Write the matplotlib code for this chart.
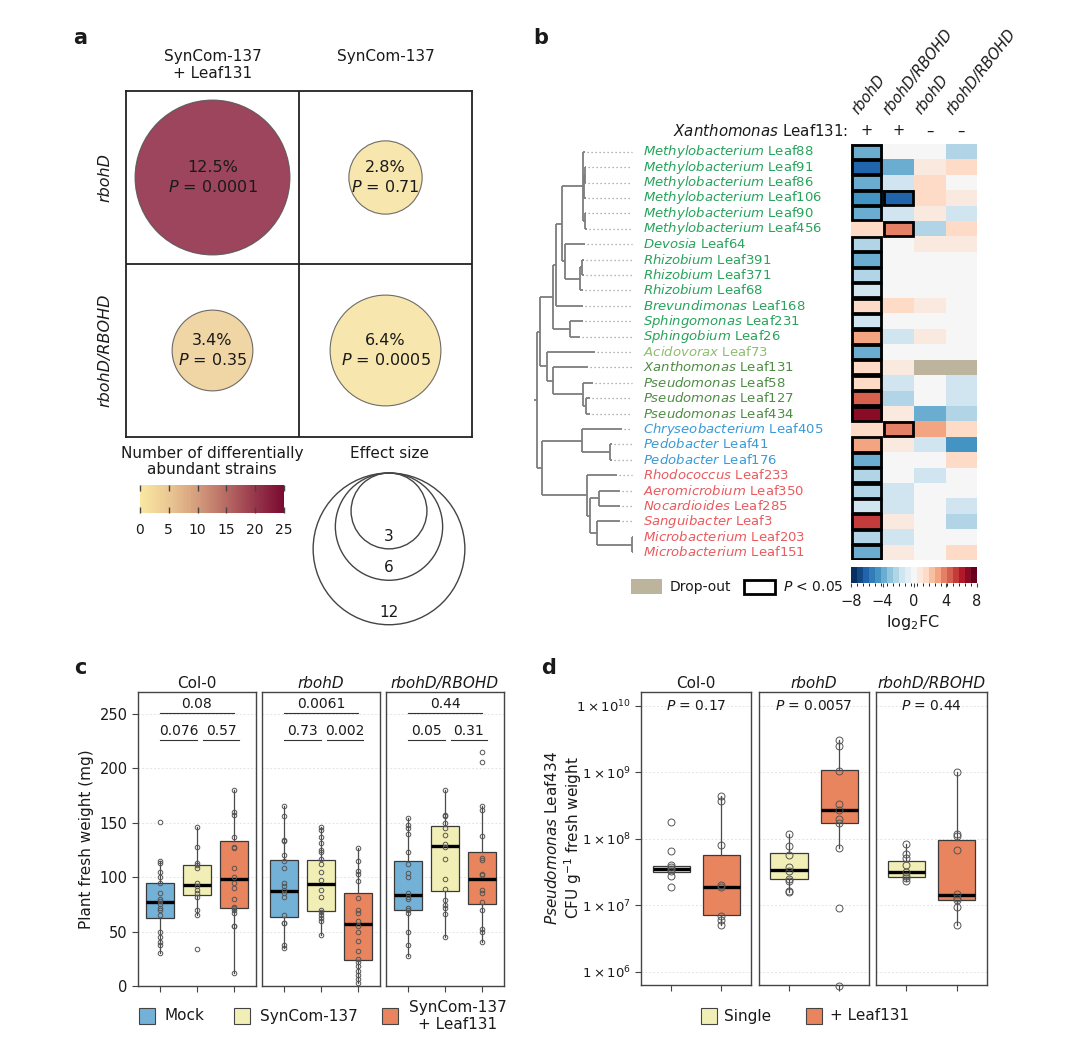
import numpy as np
import matplotlib
matplotlib.use("Agg")
import matplotlib.pyplot as plt
from matplotlib.patches import Circle, Rectangle
from matplotlib.colors import LinearSegmentedColormap, ListedColormap, BoundaryNorm, Normalize
from matplotlib.colorbar import ColorbarBase

plt.rcParams['font.family'] = ['DejaVu Sans']
plt.rcParams['mathtext.fontset'] = 'dejavusans'

# ======================= DATA =======================
# ---- panel a
a_col_labels = ['SynCom-137\n+ Leaf131', 'SynCom-137']
a_row_labels = ['rbohD', 'rbohD/RBOHD']
a_percent = [[12.5, 2.8], [3.4, 6.4]]
a_pvalue = [['0.0001', '0.71'], ['0.35', '0.0005']]
a_n_strains = [[22, 1], [4, 1]]
a_cbar_ticks = [0, 5, 10, 15, 20, 25]
a_effect_sizes = [12, 6, 3]

# ---- panel b
b_genus = ['Methylobacterium'] * 6 + ['Devosia', 'Rhizobium', 'Rhizobium', 'Rhizobium',
           'Brevundimonas', 'Sphingomonas', 'Sphingobium', 'Acidovorax', 'Xanthomonas',
           'Pseudomonas', 'Pseudomonas', 'Pseudomonas', 'Chryseobacterium', 'Pedobacter',
           'Pedobacter', 'Rhodococcus', 'Aeromicrobium', 'Nocardioides', 'Sanguibacter',
           'Microbacterium', 'Microbacterium']
b_strain = ['Leaf88', 'Leaf91', 'Leaf86', 'Leaf106', 'Leaf90', 'Leaf456', 'Leaf64', 'Leaf391',
            'Leaf371', 'Leaf68', 'Leaf168', 'Leaf231', 'Leaf26', 'Leaf73', 'Leaf131', 'Leaf58',
            'Leaf127', 'Leaf434', 'Leaf405', 'Leaf41', 'Leaf176', 'Leaf233', 'Leaf350',
            'Leaf285', 'Leaf3', 'Leaf203', 'Leaf151']
b_class = ['alpha'] * 13 + ['beta'] + ['gamma'] * 4 + ['bact'] * 3 + ['actino'] * 6
b_class_color = {'alpha': '#27A35B', 'beta': '#8DBE6E', 'gamma': '#4E8C44',
                 'bact': '#3A9AD6', 'actino': '#EA5A5E'}
b_col_genotype = ['rbohD', 'rbohD/RBOHD', 'rbohD', 'rbohD/RBOHD']
b_col_xanth = ['+', '+', '–', '–']
nan = np.nan
b_lfc_rbohD_plus = [-3.5, -6.0, -3.5, -4.8, -3.5, 1.5, -2.5, -3.5, -2.5, -1.5, 1.5, -1.5, 2.8,
                    -3.5, 1.5, 1.5, 4.8, 7.2, 1.5, 2.8, -3.5, -2.5, -2.5, -1.5, 5.5, -2.5, -3.5]
b_lfc_comp_plus = [0, -3.5, -1.5, -6.0, -1.5, 3.8, 0, 0, 0, 0, 1.5, 0, -1.5, 0, 0.6, -1.5,
                   -2.5, 0.6, 3.8, 0.6, 0, 0, -1.5, -1.5, 0.6, -1.5, 0.6]
b_lfc_rbohD_minus = [0, 0.6, 1.5, 1.5, 0.6, -2.5, 0.6, 0, 0, 0, 0.6, 0, 0.6, 0, nan, 0, 0,
                     -3.5, 2.8, -1.5, 0, -1.5, 0, 0, 0, 0, 0]
b_lfc_comp_minus = [-2.5, 1.5, 0, 0.6, -1.5, 1.5, 0.6, 0, 0, 0, 0, 0, 0, 0, nan, -1.5, -1.5,
                    -2.5, 1.5, -4.8, 1.5, 0, 0, -1.5, -2.5, 0, 1.5]
b_sig_col1 = [1, 1, 1, 1, 1, 0, 1, 1, 1, 1, 1, 1, 1, 1, 1, 1, 1, 1, 0, 1, 1, 1, 1, 1, 1, 1, 1]
b_sig_col2 = [0, 0, 0, 1, 0, 1, 0, 0, 0, 0, 0, 0, 0, 0, 0, 0, 0, 0, 1, 0, 0, 0, 0, 0, 0, 0, 0]
b_sig_col3 = [0] * 27
b_sig_col4 = [0] * 27
b_cbar_ticks = [-8, -4, 0, 4, 8]
# phylogeny: (depth, children) ; leaf = (tip depth, row index)
b_tree = (0, [
    (3, [
        (16, [
            (19, [
                (25, [
                    (46, [(48, 0),
                          (47, [(48, [(49, 1), (49, 2)]), (49, 3)]),
                          (48, [(49, 4), (50, 5)])]),
                    (28, [(48, 6),
                          (43, [(45, [(47, 7), (47, 8)]), (46, 9)])]),
                ]),
                (46, 10),
            ]),
            (33, [(46, 11), (43, 12)]),
        ]),
        (10, [(58, 13),
              (16, [(51, 14),
                    (46, [(56, 15), (49, [(53, 16), (53, 17)])])])]),
    ]),
    (5, [
        (45, [(85, 18), (73, [(75, 19), (75, 20)])]),
        (50, [(80, 21),
              (53, [(62, [(83, 22), (83, 23)]),
                    (60, [(83, 24), (95, [(96, 25), (96, 26)])])])]),
    ]),
])

# ---- panel c
c_genotypes = ['Col-0', 'rbohD', 'rbohD/RBOHD']
c_groups = ['Mock', 'SynCom-137', 'SynCom-137\n+ Leaf131']
c_colors = ['#74B1D7', '#F2EFB6', '#E8845E']
c_q1 = [[62.5, 84, 72], [63, 69, 24], [70, 87, 75]]
c_med = [[77, 93, 98], [87, 94, 57], [84, 129, 98]]
c_q3 = [[95, 111, 133], [116, 116, 85], [115, 147, 123]]
c_lo = [[30, 65, 12], [35, 47, 3], [28, 45, 40]]
c_hi = [[115, 146, 180], [165, 146, 127], [154, 180, 165]]
c_points = [
    [[151, 115, 113, 105, 100, 95, 85, 80, 78, 75, 72, 70, 65, 50, 45, 40, 38, 30],
     [146, 128, 113, 111, 108, 95, 92, 88, 85, 82, 70, 65, 34],
     [180, 160, 157, 137, 128, 127, 108, 100, 95, 90, 80, 73, 72, 70, 67, 55, 55, 12]],
    [[165, 156, 134, 133, 120, 115, 108, 95, 92, 88, 85, 82, 65, 58, 58, 38, 35],
     [146, 143, 137, 131, 125, 123, 117, 112, 105, 97, 88, 82, 70, 68, 65, 62, 60, 47],
     [127, 115, 106, 103, 96, 81, 70, 67, 60, 55, 50, 41, 32, 25, 22, 18, 14, 10, 6, 3]],
    [[154, 148, 145, 140, 123, 112, 104, 100, 85, 82, 80, 72, 70, 67, 50, 38, 28],
     [180, 157, 156, 150, 145, 139, 130, 128, 117, 98, 89, 79, 74, 72, 66, 45],
     [215, 206, 165, 162, 138, 118, 116, 103, 102, 88, 85, 77, 70, 52, 50, 40]],
]
c_p_all = ['0.08', '0.0061', '0.44']
c_p_12 = ['0.076', '0.73', '0.05']
c_p_23 = ['0.57', '0.002', '0.31']
c_yticks = [0, 50, 100, 150, 200, 250]

# ---- panel d
d_genotypes = ['Col-0', 'rbohD', 'rbohD/RBOHD']
d_groups = ['Single', '+ Leaf131']
d_colors = ['#F2EFB6', '#E8845E']
d_q1 = [[3.2e7, 7.2e6], [2.5e7, 1.76e8], [2.7e7, 1.2e7]]
d_med = [[3.55e7, 1.9e7], [3.4e7, 2.7e8], [3.2e7, 1.45e7]]
d_q3 = [[3.9e7, 5.8e7], [6.1e7, 1.1e9], [4.7e7, 9.7e7]]
d_lo = [[3.2e7, 5.0e6], [1.6e7, 7.3e7], [2.3e7, 5.0e6]]
d_hi = [[3.9e7, 4.4e8], [1.2e8, 3.1e9], [8.5e7, 1.0e9]]
d_points = [
    [[1.8e8, 6.6e7, 4.0e7, 3.8e7, 3.5e7, 3.3e7, 2.8e7, 1.9e7],
     [4.4e8, 3.7e8, 8.0e7, 2.0e7, 1.9e7, 7.0e6, 6.0e6, 5.0e6]],
    [[1.2e8, 7.8e7, 5.8e7, 3.8e7, 3.3e7, 2.5e7, 2.3e7, 1.65e7, 1.6e7],
     [3.1e9, 2.5e9, 1.05e9, 3.4e8, 2.7e8, 2.0e8, 1.75e8, 7.3e7, 9.0e6, 6.0e5]],
    [[8.5e7, 6.0e7, 5.2e7, 4.0e7, 3.2e7, 2.8e7, 2.6e7, 2.3e7],
     [1.0e9, 1.2e8, 1.1e8, 6.7e7, 1.5e7, 1.3e7, 1.2e7, 9.5e6, 5.0e6]],
]
d_pvalue = ['0.17', '0.0057', '0.44']
d_yticks = [1e6, 1e7, 1e8, 1e9, 1e10]

# ======================= FIGURE =======================
W, H = 1080, 1043
fig = plt.figure(figsize=(W / 100, H / 100), dpi=100)


def px_axes(x0, y0, x1, y1):
    return fig.add_axes([x0 / W, 1 - y1 / H, (x1 - x0) / W, (y1 - y0) / H])


def ftext(x, y, s, **kw):
    return fig.text(x / W, 1 - y / H, s, **kw)


TXT = '#1a1a1a'

# panel letters
for lab, (x, y) in zip('abcd', [(80, 38), (541, 38), (80, 668), (549, 668)]):
    ftext(x, y, lab, fontsize=15, fontweight='bold', ha='center', va='center', color=TXT)

# ----------------------- panel a -----------------------
cmap_a = LinearSegmentedColormap.from_list(
    'ya', ['#F9E8A2', '#EBC793', '#D49C7C', '#B76A63', '#97374C', '#7A0A31'])
norm_a = Normalize(0, 25)
SCALE_A = 173.0                    # px per grid unit
R_UNIT = 21.9 / SCALE_A            # circle radius per sqrt(percent)

ax_a = px_axes(126, 91, 472, 437)
ax_a.set_xlim(0, 2)
ax_a.set_ylim(2, 0)
ax_a.set_xticks([])
ax_a.set_yticks([])
for s in ax_a.spines.values():
    s.set_linewidth(1.3)
    s.set_color('#222')
ax_a.axvline(1, color='#222', lw=1.3)
ax_a.axhline(1, color='#222', lw=1.3)
for i in range(2):
    for j in range(2):
        pct = a_percent[i][j]
        c = Circle((j + 0.5, i + 0.5), R_UNIT * np.sqrt(pct),
                   facecolor=cmap_a(norm_a(a_n_strains[i][j])), alpha=0.85,
                   edgecolor='#555', lw=0.8)
        ax_a.add_patch(c)
        ax_a.text(j + 0.5, i + 0.5, f'{pct}%\n' + r'$\mathit{P}$ = ' + a_pvalue[i][j],
                  ha='center', va='center', fontsize=11.5, color=TXT, linespacing=1.25)
for j, lab in enumerate(a_col_labels):
    ax_a.text(j + 0.5, -0.24, lab, ha='center', va='top', fontsize=11, color=TXT,
              linespacing=1.15)
for i, lab in enumerate(a_row_labels):
    ax_a.text(-0.12, i + 0.5, lab, ha='center', va='center', rotation=90,
              fontsize=11.5, fontstyle='italic', color=TXT)

# colour bar a
ftext(212, 446, 'Number of differentially\nabundant strains', ha='center', va='top',
      fontsize=11, color=TXT, linespacing=1.1)
cax_a = px_axes(140, 485, 284, 513)
cb_a = ColorbarBase(cax_a, cmap=cmap_a, norm=norm_a, orientation='horizontal',
                    ticks=a_cbar_ticks)
cb_a.outline.set_visible(False)
cax_a.tick_params(axis='x', direction='in', length=4, width=1, color='#444',
                  top=True, bottom=True, labelsize=10, pad=7, labelcolor=TXT)

# effect size legend
ftext(389, 446, 'Effect size', ha='center', va='top', fontsize=11, color=TXT)
ax_es = px_axes(300, 465, 480, 640)
ax_es.set_xlim(300, 480)
ax_es.set_ylim(640, 465)
ax_es.axis('off')
top_y, cx = 473, 389
for e in a_effect_sizes:
    r = R_UNIT * SCALE_A * np.sqrt(e)
    ax_es.add_patch(Circle((cx, top_y + r), r, fill=False, edgecolor='#444', lw=1.0))
    ax_es.text(cx, top_y + 2 * r - 5, str(e), ha='center', va='bottom', fontsize=11,
               color=TXT)

# ----------------------- panel b -----------------------
n_rows = len(b_strain)
mat = np.array([b_lfc_rbohD_plus, b_lfc_comp_plus, b_lfc_rbohD_minus, b_lfc_comp_minus]).T
sig = np.array([b_sig_col1, b_sig_col2, b_sig_col3, b_sig_col4]).T
n_bins = 21
cmap_b = ListedColormap(plt.get_cmap('RdBu_r')(np.linspace(0, 1, n_bins)))
cmap_b.set_bad('#BDB49E')
norm_b = BoundaryNorm(np.linspace(-8, 8, n_bins + 1), n_bins)

ax_h = px_axes(851, 144, 977, 560)
ax_h.pcolormesh(np.arange(5), np.arange(n_rows + 1), np.ma.masked_invalid(mat),
                cmap=cmap_b, norm=norm_b)
ax_h.set_xlim(0, 4)
ax_h.set_ylim(n_rows, 0)
ax_h.axis('off')
for i in range(n_rows):
    for j in range(4):
        if sig[i, j]:
            ax_h.add_patch(Rectangle((j + 0.04, i + 0.04), 0.92, 0.92, fill=False,
                                     edgecolor='black', lw=2.0, zorder=5))
for j in range(4):
    ax_h.text(j + 0.3, -1.75, b_col_genotype[j], rotation=52, rotation_mode='anchor',
              ha='left', va='bottom', fontsize=10.5, fontstyle='italic', color=TXT,
              clip_on=False)
    ax_h.text(j + 0.5, -0.85, b_col_xanth[j], ha='center', va='center', fontsize=10.5,
              color=TXT, clip_on=False)
ax_h.text(-0.1, -0.85, r'$\mathit{Xanthomonas}$ Leaf131:', ha='right', va='center',
          fontsize=10.8, color=TXT, clip_on=False)

# dendrogram
ax_t = px_axes(533, 144, 645, 560)
ax_t.set_xlim(-4, 108)
ax_t.set_ylim(n_rows, 0)
ax_t.axis('off')
segs, tips = [], []


def layout(node):
    depth, ch = node
    if isinstance(ch, int):
        tips.append((depth, ch))
        return ch + 0.5
    ys = []
    for c in ch:
        y = layout(c)
        segs.append(((depth, c[0]), (y, y)))
        ys.append(y)
    segs.append(((depth, depth), (min(ys), max(ys))))
    return (min(ys) + max(ys)) / 2


root_y = layout(b_tree)
segs.append(((-3, 0), (root_y, root_y)))
for xs, ys in segs:
    ax_t.plot(xs, ys, color='#7d7d7d', lw=1.3, solid_capstyle='butt')
LEADER_END = 95
for depth, row in tips:
    if depth < LEADER_END:
        ax_t.plot([depth + 1.5, LEADER_END], [row + 0.5, row + 0.5], color='#9a9a9a',
                  lw=0.9, ls=(0, (1, 2.2)))
for i in range(n_rows):
    ax_t.text(106, i + 0.5, r'$\mathit{%s}$ %s' % (b_genus[i], b_strain[i]), ha='left',
              va='center', fontsize=9.5, color=b_class_color[b_class[i]], clip_on=False)

# legend b
ax_lb = px_axes(620, 568, 850, 606)
ax_lb.set_xlim(620, 850)
ax_lb.set_ylim(606, 568)
ax_lb.axis('off')
ax_lb.add_patch(Rectangle((631, 579), 31, 15, facecolor='#BDB49E', edgecolor='none'))
ax_lb.text(670, 587, 'Drop-out', ha='left', va='center', fontsize=10, color=TXT)
ax_lb.add_patch(Rectangle((744, 580), 31, 14, facecolor='white', edgecolor='black', lw=2))
ax_lb.text(783, 587, r'$\mathit{P}$ < 0.05', ha='left', va='center', fontsize=10,
           color=TXT)

cax_b = px_axes(851, 567, 977, 583)
cb_b = ColorbarBase(cax_b, cmap=cmap_b, norm=norm_b, orientation='horizontal',
                    ticks=b_cbar_ticks)
cb_b.outline.set_visible(False)
cb_b.set_ticklabels([str(t).replace('-', '\u2212') for t in b_cbar_ticks])
cax_b.tick_params(axis='x', direction='out', length=3, width=0.8, color='#444',
                  labelsize=10.5, pad=5, labelcolor=TXT)
ftext(913, 622, r'log$_2$FC', ha='center', va='center', fontsize=11.5, color=TXT)


# ----------------------- shared box drawing -----------------------
def draw_boxes(ax, q1, med, q3, lo, hi, pts, colors, width, ms):
    stats = []
    for k in range(len(q1)):
        stats.append(dict(med=med[k], q1=q1[k], q3=q3[k], whislo=lo[k], whishi=hi[k],
                          fliers=[]))
    pos = np.arange(1, len(q1) + 1)
    bp = ax.bxp(stats, positions=pos, widths=width, patch_artist=True, showfliers=False,
                showcaps=False,
                boxprops=dict(edgecolor='#3a3a3a', lw=0.9),
                whiskerprops=dict(color='#4a4a4a', lw=0.9),
                medianprops=dict(color='black', lw=2.4, solid_capstyle='butt'))
    for patch, col in zip(bp['boxes'], colors):
        patch.set_facecolor(col)
        patch.set_zorder(2)
    for k, p in enumerate(pts):
        ax.plot(np.full(len(p), pos[k]), p, ls='none', marker='o', ms=ms, mfc='none',
                mec='#555555', mew=0.7, zorder=4, clip_on=False)


# ----------------------- panel c -----------------------
c_px = [(138, 256), (262, 380), (386, 504)]
for f, (x0, x1) in enumerate(c_px):
    ax = px_axes(x0, 692, x1, 986)
    draw_boxes(ax, c_q1[f], c_med[f], c_q3[f], c_lo[f], c_hi[f], c_points[f], c_colors,
               0.75, 3.3)
    ax.set_xlim(0.4, 3.6)
    ax.set_ylim(0, 270)
    ax.set_yticks(c_yticks)
    for t in c_yticks[1:]:
        ax.axhline(t, color='#e4e4e4', lw=0.7, ls=(0, (2, 2)), zorder=0)
    ax.set_xticks([1, 2, 3])
    ax.tick_params(axis='x', labelbottom=False, length=4, color='#444', width=0.8)
    if f == 0:
        ax.tick_params(axis='y', length=4, color='#444', width=0.8, labelsize=10.5,
                       labelcolor=TXT)
    else:
        ax.tick_params(axis='y', left=False, labelleft=False)
    for s in ax.spines.values():
        s.set_color('#444')
        s.set_linewidth(1.0)
    ax.set_title(c_genotypes[f], fontsize=11, pad=3, color=TXT,
                 fontstyle='normal' if f == 0 else 'italic')
    # p-value brackets
    ax.plot([1, 3], [251, 251], color='#333', lw=0.8)
    ax.text(2, 252.5, c_p_all[f], ha='center', va='bottom', fontsize=10, color=TXT)
    ax.plot([1, 2], [226, 226], color='#333', lw=0.8)
    ax.text(1.5, 227.5, c_p_12[f], ha='center', va='bottom', fontsize=10, color=TXT)
    ax.plot([2.15, 3.15], [226, 226], color='#333', lw=0.8)
    ax.text(2.65, 227.5, c_p_23[f], ha='center', va='bottom', fontsize=10, color=TXT)
ftext(86, 839, 'Plant fresh weight (mg)', rotation=90, ha='center', va='center',
      fontsize=11, color=TXT)

# legend c
ax_lc = px_axes(130, 998, 530, 1040)
ax_lc.set_xlim(130, 530)
ax_lc.set_ylim(1040, 998)
ax_lc.axis('off')
for (px0, tx, ha), col, lab in zip([(139, 165, 'left'), (234, 260, 'left'),
                                    (382, 458, 'center')], c_colors, c_groups):
    ax_lc.add_patch(Rectangle((px0, 1008), 16, 16, facecolor=col, edgecolor='#444',
                              lw=0.8))
    ax_lc.text(tx, 1016, lab, ha=ha, va='center', fontsize=11, color=TXT,
               linespacing=1.1)

# ----------------------- panel d -----------------------
d_px = [(641, 751), (759, 869), (876, 987)]
for f, (x0, x1) in enumerate(d_px):
    ax = px_axes(x0, 692, x1, 985)
    ax.set_yscale('log')
    draw_boxes(ax, d_q1[f], d_med[f], d_q3[f], d_lo[f], d_hi[f], d_points[f], d_colors,
               0.74, 5.0)
    ax.set_xlim(0.4, 2.6)
    ax.set_ylim(10 ** 5.8, 10 ** 10.21)
    ax.set_yticks(d_yticks)
    ax.minorticks_off()
    ax.yaxis.set_minor_locator(matplotlib.ticker.NullLocator())
    for t in d_yticks:
        ax.axhline(t, color='#e4e4e4', lw=0.7, ls=(0, (2, 2)), zorder=0)
    ax.set_xticks([1, 2])
    ax.tick_params(axis='x', labelbottom=False, length=4, color='#444', width=0.8)
    if f == 0:
        ax.set_yticklabels([r'$1\times10^{%d}$' % int(np.log10(t)) for t in d_yticks])
        ax.tick_params(axis='y', length=4, color='#444', width=0.8, labelsize=9.5,
                       labelcolor=TXT)
    else:
        ax.tick_params(axis='y', left=False, labelleft=False)
    for s in ax.spines.values():
        s.set_color('#444')
        s.set_linewidth(1.0)
    ax.set_title(d_genotypes[f], fontsize=11, pad=3, color=TXT,
                 fontstyle='normal' if f == 0 else 'italic')
    ax.text(1.5, 1e10, r'$\mathit{P}$ = ' + d_pvalue[f], ha='center', va='center',
            fontsize=10, color=TXT)
ftext(564, 838, r'$\mathit{Pseudomonas}$ Leaf434' + '\n' + r'CFU g$^{-1}$ fresh weight',
      rotation=90, ha='center', va='center', fontsize=11, color=TXT, linespacing=1.1)

# legend d
ax_ld = px_axes(690, 998, 920, 1034)
ax_ld.set_xlim(690, 920)
ax_ld.set_ylim(1034, 998)
ax_ld.axis('off')
for (px0, tx), col, lab in zip([(701, 724), (806, 830)], d_colors, d_groups):
    ax_ld.add_patch(Rectangle((px0, 1008), 16, 16, facecolor=col, edgecolor='#444',
                              lw=0.8))
    ax_ld.text(tx, 1016, lab, ha='left', va='center', fontsize=11, color=TXT)

fig.savefig('out.png', dpi=100, facecolor='white')
